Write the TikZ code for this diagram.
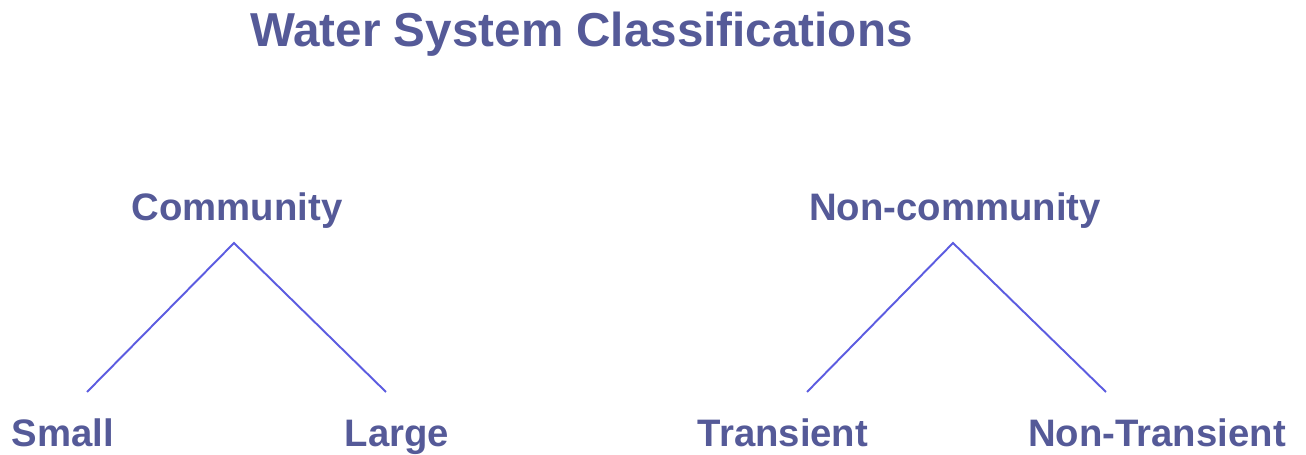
\documentclass[tikz,border=0pt]{standalone}
\usepackage{fontspec}
\setmainfont{Liberation Sans}
\usetikzlibrary{positioning}
\definecolor{textblue}{HTML}{555A98}
\definecolor{lineblue}{HTML}{5C5CE0}

\begin{document}
\begin{tikzpicture}[%
    x=0.02cm,
    y=-0.02cm,
    classtext/.style={%
      text=textblue,
      font=\bfseries\fontsize{21.8pt}{24pt}\selectfont,
      anchor=base,
      inner sep=0pt
    },
    titletext/.style={%
      classtext,
      font=\bfseries\fontsize{27.1pt}{30pt}\selectfont
    },
    branch/.style={%
      draw=lineblue,
      line width=1.1pt
    }
  ]
    \useasboundingbox (0,0) rectangle (1306,455);

    \node[titletext] (title) at (581.5,47) {Water System Classifications};

    \node[classtext] (comm) at (237,221) {Community};
    \node[classtext] (small) at (63,447) {Small};
    \node[classtext] (large) at (397,447) {Large};

    \node[classtext] (noncomm) at (955,221) {Non-community};
    \node[classtext] (trans) at (783,447) {Transient};
    \node[classtext] (nontrans) at (1157,447) {Non-Transient};

    % line ends
    \coordinate (comm-top) at (234,243);
    \coordinate (small-end) at (87,392);
    \coordinate (large-end) at (386,392);
    \coordinate (noncomm-top) at (953,243);
    \coordinate (trans-end) at (807,392);
    \coordinate (nontrans-end) at (1106,392);

    \path[branch] (small-end) -- (comm-top) -- (large-end)
                  (trans-end) -- (noncomm-top) -- (nontrans-end);
\end{tikzpicture}
\end{document}
